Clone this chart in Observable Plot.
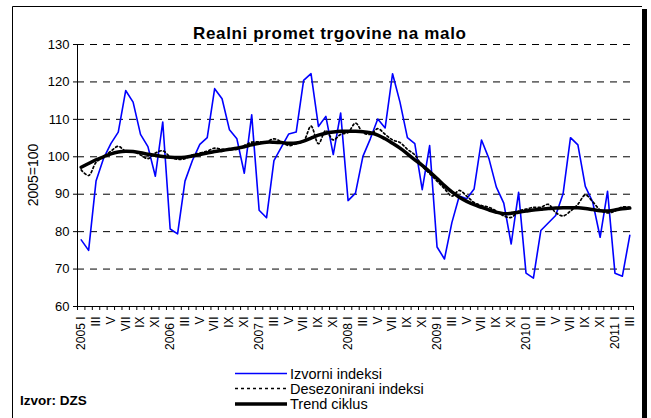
<!DOCTYPE html>
<html>
<head>
<meta charset="utf-8">
<script src="https://cdn.jsdelivr.net/npm/d3@7"></script>
<script src="https://cdn.jsdelivr.net/npm/@observablehq/plot@0.6"></script>
<style>
  html, body { margin: 0; padding: 0; background: #fff; }
  svg text { font-family: "Liberation Sans", Arial, sans-serif; }
</style>
</head>
<body>
<div id="chart"></div>
<script>
const years = [2005, 2006, 2007, 2008, 2009, 2010, 2011];
const romanMonths = ["I","II","III","IV","V","VI","VII","VIII","IX","X","XI","XII"];
const yTicks = [60, 70, 80, 90, 100, 110, 120, 130];

const izvorni = [
  77.8, 75.0, 93.5, 99.5, 103.5, 106.6, 117.7, 114.6, 106.0, 102.7, 94.8, 109.3,
  80.7, 79.4, 93.5, 99.0, 103.3, 105.1, 118.2, 115.5, 107.2, 104.8, 95.6, 111.2,
  85.7, 83.7, 99.0, 102.6, 106.1, 106.6, 120.4, 122.2, 108.1, 110.8, 100.6, 111.7,
  88.3, 90.3, 100.1, 104.8, 110.1, 107.7, 122.2, 114.6, 105.1, 103.5, 91.2, 103.0,
  75.9, 72.7, 82.4, 89.5, 88.8, 91.4, 104.5, 99.5, 91.9, 87.6, 76.7, 90.5,
  68.9, 67.6, 80.3, 82.3, 84.3, 90.1, 105.1, 103.2, 92.1, 87.9, 78.5, 90.8,
  68.9, 68.1, 79.0
];
const desezonirani = [
  96.5, 95.0, 98.5, 100.0, 101.5, 102.8, 101.5, 101.5, 100.5, 99.5, 101.0, 101.6,
  100.0, 99.3, 99.5, 100.5, 101.0, 101.5, 102.3, 102.0, 102.0, 102.0, 103.0, 103.9,
  104.0, 104.0, 104.8, 104.0, 103.0, 103.5, 104.2, 108.2, 103.5, 107.0, 104.5, 106.0,
  106.5, 109.0, 106.5, 106.0, 107.5, 106.0, 104.5, 103.8, 102.0, 100.5, 97.5, 95.5,
  93.5, 91.5, 89.5, 91.0, 89.5, 87.8, 87.0, 86.5, 85.5, 84.2, 83.8, 85.5,
  86.0, 86.5, 86.5, 87.3, 85.1, 84.2, 85.5, 87.3, 89.8, 88.0, 85.8, 85.0,
  85.5, 86.6, 86.5
];
const trend = [
  97.2, 98.2, 99.2, 100.0, 100.8, 101.3, 101.5, 101.4, 101.1, 100.7, 100.4, 100.1,
  99.9, 99.8, 99.9, 100.2, 100.6, 101.0, 101.4, 101.7, 102.0, 102.3, 102.7, 103.2,
  103.6, 103.9, 103.9, 103.8, 103.6, 103.7, 104.2, 105.0, 105.8, 106.3, 106.6, 106.8,
  106.8, 106.8, 106.7, 106.4, 105.8, 104.8, 103.6, 102.3, 100.8, 99.2, 97.7, 96.0,
  94.2, 92.3, 90.6, 89.2, 88.1, 87.2, 86.5, 85.8, 85.2, 84.8, 84.9, 85.2,
  85.5, 85.8, 86.0, 86.2, 86.3, 86.4, 86.4, 86.4, 86.2, 85.9, 85.6, 85.5,
  85.8, 86.1, 86.3
];

const rows = izvorni.map((v, i) => ({
  i,
  izvorni: v,
  desezonirani: desezonirani[i],
  trend: trend[i]
}));
const n = izvorni.length;
const labelFor = i => {
  const m = i % 12;
  const y = years[Math.floor(i / 12)];
  return m === 0 ? `${y} ${romanMonths[m]}` : romanMonths[m];
};
const labelIdx = d3.range(0, n).filter(i => i % 2 === 0);
const boundaries = d3.range(-0.5, n, 1);

const W = 651, H = 418;
const chart = Plot.plot({
  width: W,
  height: H,
  marginLeft: 77,
  marginRight: 18,
  marginTop: 44,
  marginBottom: 112,
  style: { fontFamily: "Liberation Sans, Arial, sans-serif", fontSize: "13px", background: "#fff", color: "#000" },
  x: { type: "linear", domain: [-0.5, n - 0.5] },
  y: { domain: [60, 130] },
  marks: [
    Plot.ruleY(yTicks.filter(t => t > 60), { stroke: "#000", strokeWidth: 1, strokeDasharray: "7,6" }),
    Plot.axisY(yTicks, { tickSize: 4, tickPadding: 4, fontSize: 13, label: null, tickFormat: d => d }),
    Plot.axisX(boundaries, { tickSize: 4, tickFormat: () => "", label: null }),
    Plot.axisX(labelIdx, { tickSize: 0, tickPadding: 10, tickRotate: -90, fontSize: 12, label: null, tickFormat: labelFor }),
    Plot.ruleX([-0.5], { stroke: "#000", strokeWidth: 1 }),
    Plot.ruleY([60], { stroke: "#000", strokeWidth: 1 }),
    Plot.line(rows, { x: "i", y: "izvorni", stroke: "#0000ff", strokeWidth: 1.6 }),
    Plot.line(rows, { x: "i", y: "desezonirani", stroke: "#000", strokeWidth: 1.7, strokeDasharray: "2,2.5", curve: "catmull-rom" }),
    Plot.line(rows, { x: "i", y: "trend", stroke: "#000", strokeWidth: 3.5, curve: "catmull-rom" })
  ]
});
document.getElementById("chart").appendChild(chart);

const svg = d3.select(chart);
// outer frame
svg.append("path").attr("d", "M12.5,418 V6.5 H642").attr("fill", "none").attr("stroke", "#000").attr("stroke-width", 1);
svg.append("rect").attr("x", 642).attr("y", 9).attr("width", 5).attr("height", 409).attr("fill", "#000");

// title
svg.append("text").attr("x", 329.5).attr("y", 38.5).attr("text-anchor", "middle")
  .attr("font-weight", "bold").attr("font-size", 17)
  .attr("textLength", 273).attr("lengthAdjust", "spacing")
  .text("Realni promet trgovine na malo");

// y label
svg.append("text").attr("transform", "translate(38,175) rotate(-90)").attr("text-anchor", "middle")
  .attr("font-size", 14).text("2005=100");

// legend
const legend = [
  { label: "Izvorni indeksi", y: 373.5, stroke: "#0000ff", w: 1.5, dash: null },
  { label: "Desezonirani indeksi", y: 388.5, stroke: "#000", w: 1.5, dash: "3,3" },
  { label: "Trend ciklus", y: 404, stroke: "#000", w: 3.5, dash: null }
];
legend.forEach(l => {
  const ln = svg.append("line").attr("x1", 235).attr("x2", 287).attr("y1", l.y).attr("y2", l.y)
    .attr("stroke", l.stroke).attr("stroke-width", l.w);
  if (l.dash) ln.attr("stroke-dasharray", l.dash);
  svg.append("text").attr("x", 290).attr("y", l.y + 5.2).attr("text-anchor", "start")
    .attr("font-size", 14.5).text(l.label);
});

// source
svg.append("text").attr("x", 20).attr("y", 405).attr("text-anchor", "start")
  .attr("font-weight", "bold").attr("font-size", 13.5).text("Izvor: DZS");
</script>
</body>
</html>
